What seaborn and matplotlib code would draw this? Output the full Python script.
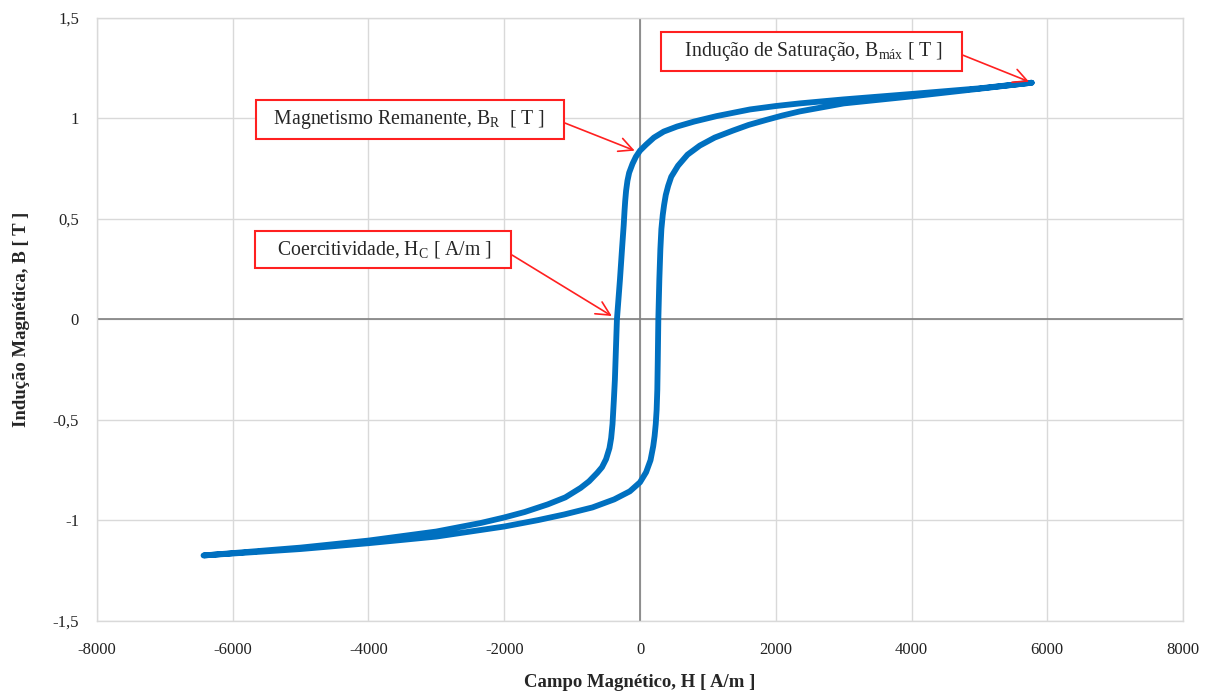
import matplotlib
matplotlib.use("Agg")
import matplotlib.pyplot as plt
import seaborn as sns
import pandas as pd

# Hysteresis loop: descending branch (from +H_max to -H_max)
h_desc = [5770, 5000, 4000, 3000, 2350, 2000, 1620, 1130, 800, 545, 350, 205, 90, 0,
          -60, -110, -160, -185, -205, -218, -228, -240, -265, -295, -340, -370, -385,
          -395, -405, -425, -450, -500, -560, -630, -750, -875, -1100, -1360, -1700,
          -2000, -2340, -3000, -4000, -5000, -6430]
b_desc = [1.178, 1.150, 1.122, 1.095, 1.075, 1.062, 1.045, 1.012, 0.985, 0.960, 0.935,
          0.905, 0.870, 0.840, 0.810, 0.775, 0.730, 0.690, 0.640, 0.590, 0.540, 0.470,
          0.350, 0.200, 0.000, -0.300, -0.400, -0.460, -0.520, -0.590, -0.640, -0.695,
          -0.735, -0.763, -0.805, -0.838, -0.885, -0.920, -0.958, -0.985, -1.012,
          -1.055, -1.100, -1.135, -1.174]

# Ascending branch (from -H_max back to +H_max)
h_asc = [-6430, -5000, -4000, -3000, -2340, -2000, -1500, -1115, -700, -380, -150, 0,
         90, 155, 195, 215, 232, 245, 255, 262, 270, 285, 300, 315, 335, 355, 380, 415,
         460, 560, 700, 880, 1100, 1370, 1600, 1860, 2100, 2350, 3000, 4000, 5000, 5770]
b_asc = [-1.174, -1.142, -1.113, -1.080, -1.047, -1.030, -0.998, -0.970, -0.935, -0.895,
         -0.855, -0.810, -0.760, -0.700, -0.630, -0.580, -0.520, -0.450, -0.350, -0.200,
         0.000, 0.200, 0.350, 0.450, 0.520, 0.570, 0.620, 0.665, 0.710, 0.765, 0.820,
         0.865, 0.905, 0.940, 0.968, 0.993, 1.015, 1.035, 1.075, 1.110, 1.148, 1.178]

# Characteristic points of the loop
h_sat, b_sat = 5770, 1.178
b_rem = 0.84
h_coerc = -340

x_ticks = [-8000, -6000, -4000, -2000, 0, 2000, 4000, 6000, 8000]
x_tick_labels = ["-8000", "-6000", "-4000", "-2000", "0", "2000", "4000", "6000", "8000"]
y_ticks = [-1.5, -1.0, -0.5, 0.0, 0.5, 1.0, 1.5]
y_tick_labels = ["-1,5", "-1", "-0,5", "0", "0,5", "1", "1,5"]

loop = pd.DataFrame({
    "H": h_desc + h_asc,
    "B": b_desc + b_asc,
})

sns.set_theme(style="white")
plt.rcParams["font.family"] = ["Liberation Serif", "DejaVu Serif"]
plt.rcParams["mathtext.fontset"] = "custom"
plt.rcParams["mathtext.rm"] = "Liberation Serif"

fig = plt.figure(figsize=(12.15, 6.95), dpi=100)
ax = fig.add_axes([0.0798, 0.1065, 0.8939, 0.8676])

sns.lineplot(data=loop, x="H", y="B", sort=False, estimator=None,
             color="#0070C0", linewidth=4.2, ax=ax, zorder=3)

ax.set_xlim(-8000, 8000)
ax.set_ylim(-1.5, 1.5)
ax.set_xticks(x_ticks)
ax.set_xticklabels(x_tick_labels, fontsize=12)
ax.set_yticks(y_ticks)
ax.set_yticklabels(y_tick_labels, fontsize=12)
ax.tick_params(axis="both", length=0, colors="#222222")
ax.tick_params(axis="x", pad=15)
ax.tick_params(axis="y", pad=13)

ax.grid(True, color="#D9D9D9", linewidth=1.0, zorder=0)
for s in ax.spines.values():
    s.set_color("#D9D9D9")
    s.set_linewidth(1.0)
ax.axhline(0, color="#808080", linewidth=1.2, zorder=1)
ax.axvline(0, color="#808080", linewidth=1.2, zorder=1)

ax.set_xlabel("Campo Magnético, H [ A/m ]", fontsize=13.5, fontweight="bold", labelpad=12)
ax.set_ylabel("Indução Magnética, B [ T ]", fontsize=13.5, fontweight="bold", labelpad=16)

box = dict(boxstyle="square,pad=0.42", facecolor="white", edgecolor="#FF2020", linewidth=1.5)
arrow = dict(arrowstyle="->,head_length=0.7,head_width=0.35", color="#FF2020",
             linewidth=1.2, relpos=(1.0, 0.5), shrinkA=0, shrinkB=2)

ax.annotate("   Indução de Saturação, B$_{\\mathrm{máx}}$ [ T ]   ", xy=(h_sat, b_sat),
            xytext=(2530, 1.333), ha="center", va="center", fontsize=14.2,
            bbox=box, arrowprops=arrow, zorder=5)
ax.annotate("  Magnetismo Remanente, $\\mathrm{B_R}$  [ T ]   ", xy=(-40, b_rem - 0.005),
            xytext=(-3390, 0.995), ha="center", va="center", fontsize=14.2,
            bbox=box, arrowprops=arrow, zorder=5)
ax.annotate("   Coercitividade, H$_{\\mathrm{C}}$ [ A/m ]   ", xy=(h_coerc - 40, 0.01),
            xytext=(-3786, 0.348), ha="center", va="center", fontsize=14.2,
            bbox=box, arrowprops=arrow, zorder=5)

fig.savefig("out.png", dpi=100)
